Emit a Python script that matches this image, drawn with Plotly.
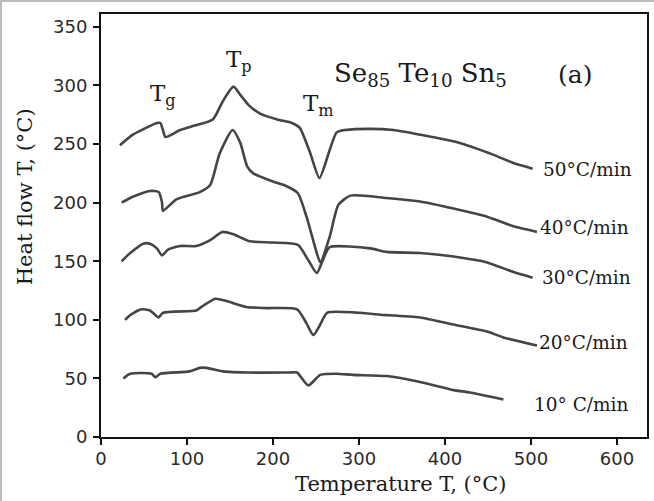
import plotly.graph_objects as go

# ---- data (temperature °C, heat flow) ----
t50 = [22, 37, 50, 65, 69, 72, 75, 92, 110, 130, 142, 154, 162, 172, 185, 205, 222, 231, 243, 254, 266, 274, 284, 313, 340, 371, 417, 456, 479, 502]
v50 = [249, 258, 263, 268, 268, 262, 256, 262, 266, 271, 287, 299, 292, 283, 276, 271, 268, 264, 243, 221, 245, 260, 262, 263, 262, 258, 251, 241, 234, 229]

t40 = [24, 37, 57, 67, 71, 72, 88, 115, 127, 138, 153, 162, 170, 177, 200, 216, 229, 239, 251, 255, 266, 276, 290, 332, 371, 410, 449, 479, 507]
v40 = [200, 205, 210, 209, 200, 193, 203, 209, 215, 242, 262, 251, 231, 225, 218, 214, 208, 188, 157, 149, 171, 198, 206, 204, 201, 195, 188, 180, 175]

t30 = [24, 34, 49, 57, 65, 71, 78, 92, 111, 127, 141, 154, 173, 200, 229, 241, 251, 258, 266, 313, 332, 371, 410, 449, 479, 502]
v30 = [150, 157, 165, 165, 161, 155, 160, 163, 163, 168, 175, 173, 167, 166, 164, 151, 140, 151, 162, 161, 158, 157, 154, 149, 141, 136]

t20 = [28, 34, 47, 57, 67, 72, 111, 115, 123, 133, 146, 169, 193, 228, 239, 247, 255, 263, 332, 371, 410, 449, 468, 507]
v20 = [100, 104, 109, 108, 102, 106, 108, 110, 114, 118, 116, 111, 110, 109, 97, 87, 96, 106, 104, 102, 96, 90, 85, 78]

t10 = [26, 34, 59, 63, 69, 103, 115, 123, 142, 173, 220, 228, 241, 255, 274, 293, 332, 371, 410, 429, 468]
v10 = [50, 54, 54, 51, 54, 56, 59, 59, 56, 55, 55, 55, 44, 53, 54, 53, 52, 47, 40, 38, 32]

series = [(t50, v50), (t40, v40), (t30, v30), (t20, v20), (t10, v10)]
rate_labels = ["50°C/min", "40°C/min", "30°C/min", "20°C/min", "10° C/min"]
rate_label_x = [512, 508, 511, 507, 501]
rate_label_y = [228, 179, 136, 81, 28]

x_ticks = [0, 100, 200, 300, 400, 500, 600]
y_ticks = [0, 50, 100, 150, 200, 250, 300, 350]

fig = go.Figure()
for t, v in series:
    fig.add_trace(go.Scatter(x=t, y=v, mode="lines",
                             line=dict(color="#454545", width=2.6, shape="spline", smoothing=0.6),
                             showlegend=False, hoverinfo="skip"))

serif = "DejaVu Serif"
ink = "#1a1a1a"
ann = []
for txt, ax, ay in zip(rate_labels, rate_label_x, rate_label_y):
    ann.append(dict(x=ax, y=ay, text=txt, showarrow=False, xanchor="left", yanchor="middle",
                    font=dict(family=serif, size=18.5, color=ink)))

ann.append(dict(x=269, y=309, text="Se<sub>85</sub> Te<sub>10</sub> Sn<sub>5</sub>", showarrow=False,
                xanchor="left", yanchor="middle", font=dict(family=serif, size=26, color=ink)))
ann.append(dict(x=529, y=309, text="(a)", showarrow=False, xanchor="left", yanchor="middle",
                font=dict(family=serif, size=25, color=ink)))
ann.append(dict(x=55, y=292, text="T<sub>g</sub>", showarrow=False, xanchor="left", yanchor="middle",
                font=dict(family=serif, size=23, color=ink)))
ann.append(dict(x=143, y=321, text="T<sub>p</sub>", showarrow=False, xanchor="left", yanchor="middle",
                font=dict(family=serif, size=23, color=ink)))
ann.append(dict(x=233, y=283, text="T<sub>m</sub>", showarrow=False, xanchor="left", yanchor="middle",
                font=dict(family=serif, size=23, color=ink)))

# axis titles as annotations (paper coordinates)
ann.append(dict(x=0.549, y=-0.111, xref="paper", yref="paper", text="Temperature T, (°C)",
                showarrow=False, xanchor="center", yanchor="middle",
                font=dict(family=serif, size=21, color=ink)))
ann.append(dict(x=-0.139, y=0.567, xref="paper", yref="paper", text="Heat flow T, (°C)",
                showarrow=False, xanchor="center", yanchor="middle", textangle=-90,
                font=dict(family=serif, size=21, color=ink)))

axis_common = dict(showgrid=False, zeroline=False, showline=True, linecolor="#111", linewidth=2,
                   mirror=True, ticks="outside", ticklen=6, tickwidth=1.5, tickcolor="#111",
                   automargin=False,
                   tickfont=dict(family="DejaVu Sans", size=18, color="#2a2a2a"))

fig.update_layout(
    width=654, height=501,
    margin=dict(l=101, r=7, t=14, b=64, autoexpand=False),
    paper_bgcolor="white", plot_bgcolor="white",
    annotations=ann,
    xaxis=dict(range=[0, 635], tickvals=x_ticks, ticktext=[str(v) for v in x_ticks],
               ticklabelstandoff=-2, **axis_common),
    yaxis=dict(range=[0, 361], tickvals=y_ticks, ticktext=[str(v) for v in y_ticks],
               ticklabelstandoff=2, **axis_common),
    shapes=[
        dict(type="line", xref="paper", yref="paper", x0=-101/546, x1=1+7/546, y0=1+13/423, y1=1+13/423,
             line=dict(color="#bdbdbd", width=2)),
        dict(type="line", xref="paper", yref="paper", x0=-100/546, x1=-100/546, y0=-64/423, y1=1+14/423,
             line=dict(color="#bdbdbd", width=2)),
    ],
)

fig.write_html("out.html", config={"displayModeBar": False},
               post_script="document.body.style.margin='0';")
